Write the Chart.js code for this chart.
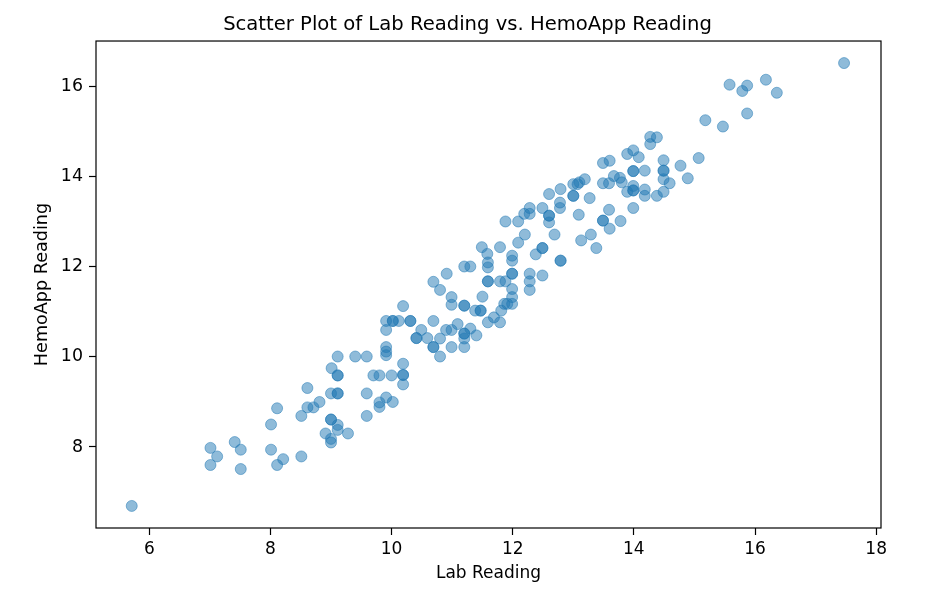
<!DOCTYPE html>
<html>
<head>
<meta charset="utf-8">
<script src="https://cdn.jsdelivr.net/npm/chart.js@4/dist/chart.umd.min.js"></script>
<style>
html, body { margin: 0; padding: 0; background: #fff; }
</style>
</head>
<body>
<canvas id="grafico" width="940" height="599"></canvas>
<script>
// lecturas de laboratorio (x) y de HemoApp (y), mismo orden
var lab_reading = [
    5.71, 7.01, 7.12, 7.01, 7.41, 7.51, 7.51, 8.01, 8.11, 8.21,
    8.51, 8.01, 8.11, 8.51, 8.61, 8.61, 8.71, 8.81, 9.00, 9.11,
    9.11, 9.00, 9.00, 9.11, 8.91, 9.00, 9.00, 9.11, 9.28, 9.01,
    9.11, 9.11, 9.11, 9.40, 9.59, 9.59, 9.59, 9.70, 9.80, 9.80,
    9.80, 9.91, 10.02, 9.91, 9.91, 10.02, 10.02, 10.12, 10.19, 10.31,
    10.31, 9.91, 9.91, 9.91, 10.00, 10.19, 10.19, 10.19, 10.19, 10.41,
    10.41, 10.49, 10.59, 10.69, 10.69, 10.69, 10.80, 10.80, 10.69, 10.80,
    10.91, 10.90, 10.99, 10.99, 10.99, 10.99, 11.09, 11.20, 11.20, 11.20,
    11.20, 11.30, 11.40, 11.20, 11.30, 11.20, 11.20, 11.38, 11.47, 11.47,
    11.50, 11.59, 11.69, 11.79, 11.81, 11.86, 11.91, 11.99, 11.99, 11.99,
    11.59, 11.59, 11.49, 11.58, 11.59, 11.59, 11.79, 11.79, 11.88, 11.99,
    11.99, 11.99, 11.99, 11.88, 12.09, 12.09, 12.20, 12.38, 12.49, 12.49,
    12.69, 12.60, 12.79, 12.79, 12.28, 12.28, 12.28, 12.49, 13.13, 12.19,
    12.28, 12.28, 12.49, 12.60, 12.60, 12.60, 12.79, 12.78, 12.78, 13.00,
    13.00, 13.00, 13.07, 13.10, 13.19, 13.27, 13.09, 13.29, 13.38, 13.49,
    13.49, 13.60, 13.78, 13.59, 13.99, 13.49, 13.59, 13.67, 13.77, 13.80,
    13.89, 13.99, 13.99, 13.99, 13.99, 13.99, 14.18, 14.18, 14.18, 14.38,
    14.49, 14.49, 14.49, 14.49, 14.49, 14.59, 14.77, 13.49, 13.60, 13.89,
    13.99, 14.08, 14.27, 14.38, 14.27, 14.89, 15.07, 15.18, 15.47, 15.58,
    15.79, 15.87, 15.87, 16.18, 16.36, 17.47
];
var hemo_reading = [
    6.69, 7.98, 7.79, 7.60, 8.11, 7.94, 7.51, 7.94, 7.60, 7.73,
    7.79, 8.50, 8.86, 8.69, 9.31, 8.88, 8.88, 9.00, 9.19, 9.19,
    9.19, 8.61, 8.61, 8.49, 8.30, 8.18, 8.10, 8.38, 8.30, 9.75,
    10.01, 9.59, 9.59, 10.01, 10.01, 9.19, 8.69, 9.59, 9.59, 8.89,
    8.99, 9.10, 9.00, 10.60, 10.80, 10.80, 10.80, 10.80, 11.13, 10.80,
    10.80, 10.22, 10.12, 10.04, 9.59, 9.85, 9.60, 9.60, 9.39, 10.42,
    10.42, 10.60, 10.42, 10.80, 10.22, 10.22, 10.01, 10.41, 11.67, 11.49,
    11.85, 10.60, 10.60, 10.22, 11.33, 11.16, 10.73, 10.52, 10.52, 10.41,
    10.22, 10.63, 10.48, 12.01, 12.01, 11.14, 11.14, 11.03, 11.03, 11.03,
    11.34, 10.77, 10.88, 10.77, 11.03, 11.18, 11.18, 11.18, 11.33, 11.51,
    11.68, 11.68, 12.44, 12.29, 12.10, 11.99, 12.44, 11.68, 11.68, 11.85,
    11.85, 12.25, 12.14, 13.01, 13.01, 12.54, 12.72, 12.28, 12.42, 12.42,
    12.72, 12.99, 12.14, 12.14, 11.85, 11.68, 11.49, 11.81, 12.59, 13.18,
    13.18, 13.31, 13.31, 13.62, 13.14, 13.14, 13.73, 13.43, 13.31, 13.58,
    13.58, 13.84, 13.84, 13.88, 13.95, 13.53, 13.16, 12.72, 12.42, 13.03,
    13.03, 12.85, 13.02, 13.27, 13.31, 13.86, 13.86, 14.02, 13.98, 13.88,
    13.67, 14.13, 14.13, 13.80, 13.70, 13.70, 14.14, 13.72, 13.58, 13.58,
    13.67, 14.37, 14.14, 14.14, 13.95, 13.86, 14.25, 14.31, 14.36, 14.51,
    14.59, 14.44, 14.89, 14.88, 14.73, 13.97, 14.42, 15.26, 15.12, 16.05,
    15.91, 16.03, 15.41, 16.16, 15.87, 16.53
];
var x_ticks = [6, 8, 10, 12, 14, 16, 18];
var y_ticks = [8, 10, 12, 14, 16];

var puntos = lab_reading.map(function (x, i) {
    return { x: x, y: hemo_reading[i] };
});

Chart.defaults.font.family = "'DejaVu Sans', sans-serif";
Chart.defaults.color = '#000';

// marco negro alrededor del area (como los spines de matplotlib)
var marco = {
    id: 'marco',
    afterDraw: function (chart) {
        var a = chart.chartArea;
        var c = chart.ctx;
        c.save();
        c.strokeStyle = '#000';
        c.lineWidth = 1.2;
        c.strokeRect(a.left, a.top, a.right - a.left, a.bottom - a.top);
        c.restore();
    }
};

var ctx_grafico = document.getElementById('grafico').getContext('2d');
var chart_scatter = new Chart(ctx_grafico, {
    type: 'scatter',
    data: {
        datasets: [{
            data: puntos,
            backgroundColor: 'rgba(31,119,180,0.5)',
            borderColor: 'rgba(31,119,180,0.5)',
            borderWidth: 1,
            pointRadius: 5.5,
            pointHoverRadius: 5.5
        }]
    },
    options: {
        responsive: false,
        animation: false,
        layout: { padding: { left: 0, right: 5, top: 0, bottom: 0 } },
        plugins: {
            legend: { display: false },
            tooltip: { enabled: false },
            title: {
                display: true,
                text: 'Scatter Plot of Lab Reading vs. HemoApp Reading',
                font: { size: 19.6, weight: 'normal' },
                color: '#000',
                padding: { top: 13, bottom: 4.5 }
            }
        },
        scales: {
            x: {
                type: 'linear',
                min: 5.12,
                max: 18.08,
                afterBuildTicks: function (s) {
                    s.ticks = x_ticks.map(function (v) { return { value: v }; });
                },
                afterFit: function (s) { s.height = 71; },
                grid: { drawOnChartArea: false, drawTicks: true, tickLength: 7, tickColor: '#000', tickWidth: 1.2 },
                border: { display: false },
                ticks: { font: { size: 17 }, padding: 4, color: '#000', maxRotation: 0 },
                title: { display: true, text: 'Lab Reading', font: { size: 17 }, color: '#000', padding: { top: 0, bottom: 15 } }
            },
            y: {
                type: 'linear',
                min: 6.20,
                max: 17.02,
                afterBuildTicks: function (s) {
                    s.ticks = y_ticks.map(function (v) { return { value: v }; });
                },
                afterFit: function (s) { s.width = 96; },
                grid: { drawOnChartArea: false, drawTicks: true, tickLength: 7, tickColor: '#000', tickWidth: 1.2 },
                border: { display: false },
                ticks: { font: { size: 17.4 }, padding: 6, color: '#000' },
                title: { display: true, text: 'HemoApp Reading', font: { size: 17.6 }, color: '#000', padding: { top: 32, bottom: 0 } }
            },
            // eje vacio a la derecha, solo deja el margen
            y_margen: {
                type: 'linear',
                position: 'right',
                grid: { display: false },
                border: { display: false },
                ticks: { display: false },
                afterFit: function (s) { s.width = 54; }
            }
        }
    },
    plugins: [marco]
});
</script>
</body>
</html>
